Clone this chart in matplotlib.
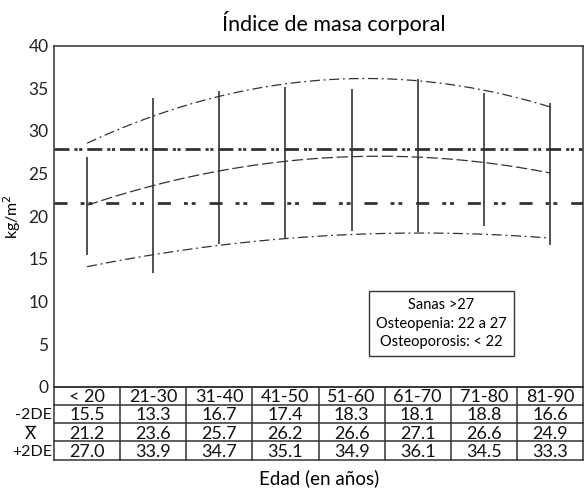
import numpy as np
import matplotlib
matplotlib.use("Agg")
import matplotlib.pyplot as plt
import matplotlib.transforms as mtransforms

plt.rcParams['font.family'] = ['Lato', 'DejaVu Sans']

grupos = ['< 20', '21-30', '31-40', '41-50', '51-60', '61-70', '71-80', '81-90']
menos2de = [15.5, 13.3, 16.7, 17.4, 18.3, 18.1, 18.8, 16.6]
media = [21.2, 23.6, 25.7, 26.2, 26.6, 27.1, 26.6, 24.9]
mas2de = [27.0, 33.9, 34.7, 35.1, 34.9, 36.1, 34.5, 33.3]
filas = ['-2DE', 'X', '+2DE']
corte_sanas = 27.9
corte_osteoporosis = 21.5
leyenda = 'Sanas >27\nOsteopenia: 22 a 27\nOsteoporosis: < 22'

col = '#333333'
x = np.arange(len(grupos))

fig = plt.figure(figsize=(5.85, 4.88), dpi=100)
ax = fig.add_axes([0.0923, 0.2076, 0.9043, 0.6988])

# barras -2DE a +2DE
ax.vlines(x, menos2de, mas2de, color=col, lw=1.2)

# curvas suavizadas (ajuste cuadratico)
xs = np.linspace(0, len(grupos) - 1, 200)
for serie, ls in [(mas2de, (0, (8, 3, 1.5, 3))), (menos2de, (0, (8, 3, 1.5, 3))),
                  (media, (0, (9, 3)))]:
    c = np.polyfit(x, serie, 2)
    ax.plot(xs, np.polyval(c, xs), color=col, lw=0.9, linestyle=ls)

ax.axhline(corte_sanas, color=col, lw=2,
           linestyle=(0, (5.4, 1.8, 1.1, 0.6, 1.1, 1.8)))
ax.axhline(corte_osteoporosis, color=col, lw=2,
           linestyle=(0, (4.7, 4.7, 1.4, 1.4, 1.4, 5)))

ax.set_xlim(-0.5, len(grupos) - 0.5)
ax.set_ylim(0, 40)
ax.set_xticks([])
ax.set_yticks(range(0, 41, 5))
ax.tick_params(axis='y', length=0, labelsize=12.5, pad=4, colors='#222222')
for s in ax.spines.values():
    s.set_color(col)
    s.set_linewidth(1.1)

fig.text(0.571, 0.953, 'Índice de masa corporal', ha='center', va='center',
         fontsize=15.5)
ax.set_ylabel('kg/m$^2$', fontsize=11.5, labelpad=4)

ax.text(0.732, 0.185, leyenda, transform=ax.transAxes, ha='center', va='center',
        fontsize=10.5, linespacing=1.4,
        bbox=dict(boxstyle='square,pad=0.5', fc='white', ec=col, lw=1))

# tabla inferior
trans = mtransforms.blended_transform_factory(ax.transData, ax.transAxes)
rh = 0.0535
nrow = 4
bottom = -rh * nrow
for i in range(nrow + 1):
    ax.plot([-0.5, len(grupos) - 0.5], [-rh * i, -rh * i], transform=trans,
            color=col, lw=1.1, clip_on=False)
for j in range(len(grupos) + 1):
    ax.plot([j - 0.5, j - 0.5], [0, bottom], transform=trans,
            color=col, lw=1.1, clip_on=False)

datos = [grupos, menos2de, media, mas2de]
for i, fila in enumerate(datos):
    yc = -rh * (i + 0.5)
    for j, v in enumerate(fila):
        t = v if isinstance(v, str) else f'{v:.1f}'
        ax.text(j, yc - 0.004, t, transform=trans, ha='center', va='center',
                fontsize=13, color='#111111')
for i, lab in enumerate(filas):
    yc = -rh * (i + 1.5)
    if lab == 'X':
        ax.text(-0.855, yc - 0.006, lab, transform=trans, ha='center',
                va='center', fontsize=12.5, color='#111111')
        # barra de la media sobre la X
        ax.plot([-0.93, -0.78], [-rh * (i + 1) - 0.009] * 2, transform=trans,
                color='#111111', lw=1, clip_on=False)
    else:
        ax.text(-0.53, yc - 0.004, lab, transform=trans, ha='right',
                va='center', fontsize=11.5, color='#111111')

fig.text(0.545, 0.02, 'Edad (en años)', ha='center', va='center', fontsize=13.5)

fig.savefig('out.png', dpi=100)
